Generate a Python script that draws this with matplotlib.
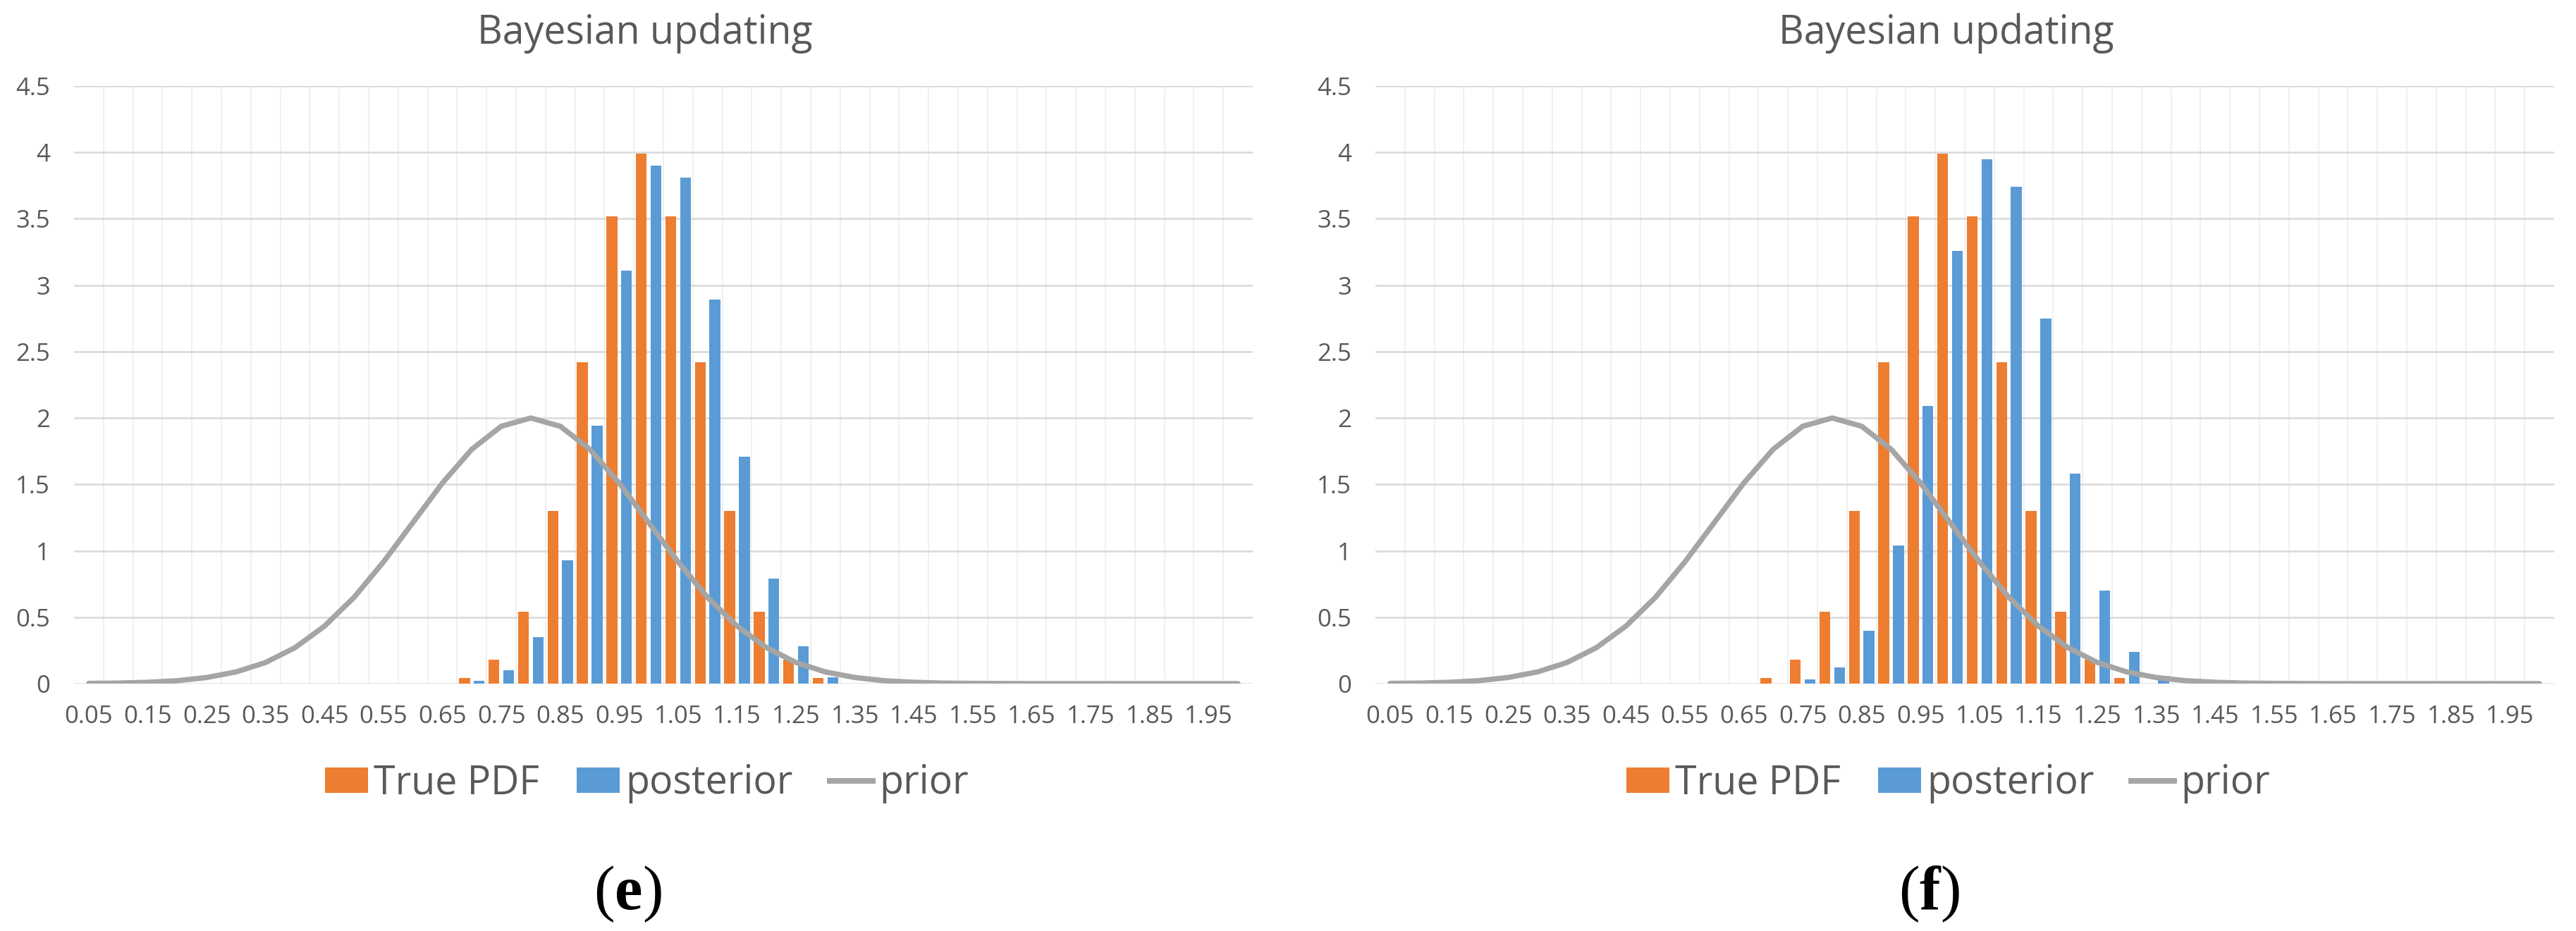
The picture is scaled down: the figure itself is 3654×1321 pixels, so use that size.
import numpy as np
import matplotlib
matplotlib.use("Agg")
import matplotlib.pyplot as plt
from matplotlib.patches import Patch
from matplotlib.lines import Line2D

# ---------------- data ----------------
categories = ["0.05", "0.10", "0.15", "0.20", "0.25", "0.30", "0.35", "0.40",
              "0.45", "0.50", "0.55", "0.60", "0.65", "0.70", "0.75", "0.80",
              "0.85", "0.90", "0.95", "1.00", "1.05", "1.10", "1.15", "1.20",
              "1.25", "1.30", "1.35", "1.40", "1.45", "1.50", "1.55", "1.60",
              "1.65", "1.70", "1.75", "1.80", "1.85", "1.90", "1.95", "2.00"]

true_pdf = [0, 0, 0, 0, 0, 0, 0, 0, 0, 0, 0, 0,
            0, 0.04, 0.18, 0.54, 1.30, 2.42, 3.52, 3.99, 3.52, 2.42,
            1.30, 0.54, 0.18, 0.04, 0,
            0, 0, 0, 0, 0, 0, 0, 0, 0, 0, 0, 0, 0]

posterior_e = [0, 0, 0, 0, 0, 0, 0, 0, 0, 0, 0, 0,
               0, 0.02, 0.10, 0.35, 0.93, 1.94, 3.11, 3.90, 3.81, 2.89,
               1.71, 0.79, 0.28, 0.05, 0,
               0, 0, 0, 0, 0, 0, 0, 0, 0, 0, 0, 0, 0]

posterior_f = [0, 0, 0, 0, 0, 0, 0, 0, 0, 0, 0, 0,
               0, 0, 0.03, 0.12, 0.40, 1.04, 2.09, 3.26, 3.95, 3.74,
               2.75, 1.58, 0.70, 0.24, 0.06,
               0, 0, 0, 0, 0, 0, 0, 0, 0, 0, 0, 0, 0]

prior = [0.002, 0.004, 0.010, 0.022, 0.046, 0.088, 0.159, 0.271, 0.433, 0.649,
         0.916, 1.213, 1.510, 1.765, 1.938, 2.000, 1.938, 1.765, 1.510, 1.213,
         0.916, 0.649, 0.433, 0.271, 0.159, 0.088, 0.046, 0.022, 0.010, 0.004,
         0.002, 0.001, 0, 0, 0, 0, 0, 0, 0, 0]

y_ticks = [0, 0.5, 1, 1.5, 2, 2.5, 3, 3.5, 4, 4.5]
y_tick_labels = ["0", "0.5", "1", "1.5", "2", "2.5", "3", "3.5", "4", "4.5"]
series_names = ["True PDF", "posterior", "prior"]
panel_title = "Bayesian updating"
panel_tags = ["e", "f"]

# ---------------- style ----------------
plt.rcParams["font.family"] = ["Open Sans", "DejaVu Sans"]
plt.rcParams["mathtext.fontset"] = "custom"
plt.rcParams["mathtext.rm"] = "Liberation Serif"
plt.rcParams["mathtext.bf"] = "Liberation Serif:bold"

ORANGE = "#ED7D31"
BLUE = "#5B9BD5"
GREY = "#A5A5A5"
TXT = "#595959"
GRID_H = "#D9D9D9"
GRID_V = "#F0F0F0"

W, H = 3655, 1321
DPI = 100


def pt(pixels):
    return pixels * 72.0 / DPI


fig = plt.figure(figsize=(W / DPI, H / DPI), dpi=DPI)

offset = 1846
panels = [posterior_e, posterior_f]
idx = np.arange(len(categories))

for i, post in enumerate(panels):
    dx = i * offset
    left = 105 + dx
    ax = fig.add_axes([left / W, (H - 970) / H, 1672 / W, (970 - 122) / H])

    ax.bar(idx - 0.25, true_pdf, width=0.37, color=ORANGE, zorder=2, linewidth=0)
    ax.bar(idx + 0.25, post, width=0.37, color=BLUE, zorder=2, linewidth=0)
    ax.plot(idx, prior, color=GREY, lw=pt(7.5), solid_capstyle="round",
            solid_joinstyle="round", zorder=3)

    ax.set_xlim(-0.5, len(categories) - 0.5)
    ax.set_ylim(0, 4.5)
    ax.set_xticks(idx[::2])
    ax.set_xticklabels(categories[::2])
    ax.set_xticks(np.arange(0.5, len(categories) - 0.5, 1.0), minor=True)
    ax.set_yticks(y_ticks)
    ax.set_yticklabels(y_tick_labels)

    ax.grid(True, axis="y", which="major", color=GRID_H, lw=pt(2.5), zorder=0)
    ax.grid(True, axis="x", which="minor", color=GRID_V, lw=pt(2), zorder=0)
    ax.set_axisbelow(True)

    for s in ax.spines.values():
        s.set_visible(False)
    ax.tick_params(axis="both", which="both", length=0, labelsize=25,
                   labelcolor=TXT)
    ax.tick_params(axis="x", which="major", pad=pt(30))
    ax.tick_params(axis="y", which="major", pad=pt(34))

    # title
    fig.text((915 + dx) / W, (H - 62) / H, panel_title, ha="center",
             va="baseline", fontsize=40, color=TXT)

    # legend
    handles = [Patch(facecolor=ORANGE, edgecolor="none"),
               Patch(facecolor=BLUE, edgecolor="none"),
               Line2D([], [], color=GREY, lw=pt(8))]
    fig.legend(handles, series_names, loc="center",
               bbox_to_anchor=((917 + dx) / W, (H - 1112) / H),
               ncol=3, frameon=False, fontsize=40, handlelength=1.1,
               handleheight=0.63, handletextpad=0.15, columnspacing=0.95,
               labelcolor=TXT, borderpad=0, borderaxespad=0)

    # panel tag
    fig.text((890 + dx) / W, (H - 1267) / H,
             r"$(\mathbf{%s})$" % panel_tags[i], ha="center", va="center",
             fontsize=64, color="black")

fig.savefig("out.png", dpi=DPI, facecolor="white")
